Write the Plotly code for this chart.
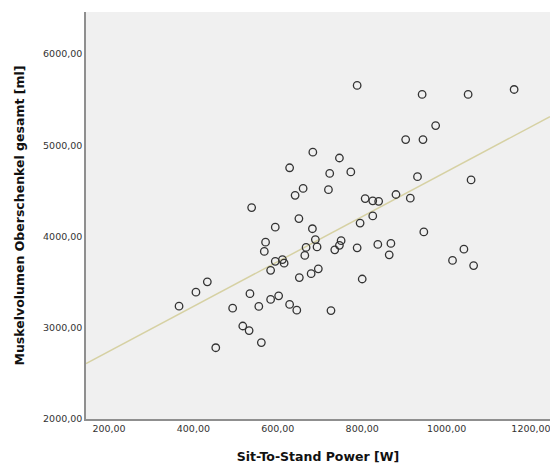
import plotly.graph_objects as go

# Sit-To-Stand Power [W]
power_w = [788, 942, 1051, 1160, 974, 903, 944, 683, 746, 628,
           723, 773, 660, 641, 720, 931, 1058, 807, 825, 839,
           880, 914, 650, 795, 825, 682, 689, 667, 693, 664,
           750, 746, 735, 788, 837, 868, 864, 946, 1041, 1014,
           1064, 538, 594, 571, 568, 594, 611, 615, 583, 433,
           406, 366, 534, 493, 555, 583, 602, 628, 645, 726,
           517, 532, 561, 453, 651, 679, 696, 800]
# Muskelvolumen Oberschenkel gesamt [ml]
volume_ml = [5655, 5557, 5557, 5611, 5215, 5062, 5062, 4924, 4860, 4753,
             4691, 4707, 4527, 4451, 4513, 4655, 4620, 4416, 4391, 4385,
             4460, 4420, 4196, 4147, 4225, 4085, 3966, 3880, 3886, 3793,
             3954, 3903, 3854, 3876, 3913, 3924, 3799, 4050, 3861, 3738,
             3681, 4317, 4102, 3938, 3836, 3728, 3747, 3708, 3629, 3503,
             3390, 3236, 3373, 3214, 3234, 3310, 3350, 3255, 3193, 3188,
             3019, 2969, 2838, 2781, 3550, 3592, 3646, 3534]

# linear fit line
fit_intercept = 2248
fit_slope = 2.462

x_range = [145.5, 1245]
y_range = [2000, 6460]

x_tickvals = [200, 400, 600, 800, 1000, 1200]
x_ticktext = ["200,00", "400,00", "600,00", "800,00", "1000,00", "1200,00"]
y_tickvals = [2000, 3000, 4000, 5000, 6000]
y_ticktext = ["2000,00", "3000,00", "4000,00", "5000,00", "6000,00"]

fig = go.Figure()

fig.add_trace(go.Scatter(
    x=x_range,
    y=[fit_intercept + fit_slope * v for v in x_range],
    mode="lines",
    line=dict(color="#d6d1a3", width=1.5),
    hoverinfo="skip",
    showlegend=False,
))

fig.add_trace(go.Scatter(
    x=power_w, y=volume_ml,
    mode="markers",
    marker=dict(symbol="circle-open", size=7.5, color="#333333",
                line=dict(width=1.3, color="#333333")),
    showlegend=False,
))

fig.update_layout(
    width=550, height=468,
    margin=dict(l=86, r=0, t=12, b=49),
    paper_bgcolor="white",
    plot_bgcolor="#f0f0f0",
    font=dict(family="DejaVu Sans", color="#222222"),
    xaxis=dict(
        range=x_range, tickvals=x_tickvals, ticktext=x_ticktext,
        showgrid=False, zeroline=False,
        showline=True, linecolor="#8f8f8f", linewidth=1.5,
        ticks="", ticklen=0,
        ticklabeloverflow="allow",
        tickfont=dict(size=9.5, color="#333333"),
        title=dict(text="<b>Sit-To-Stand Power [W]</b>",
                   font=dict(size=12.5, color="#111111"), standoff=19),
        automargin=False,
    ),
    yaxis=dict(
        range=y_range, tickvals=y_tickvals, ticktext=y_ticktext,
        showgrid=False, zeroline=False,
        showline=True, linecolor="#8f8f8f", linewidth=1.5,
        ticks="", ticklen=0,
        tickfont=dict(size=9.5, color="#333333"),
        title=dict(text="<b>Muskelvolumen Oberschenkel gesamt [ml]</b>",
                   font=dict(size=12.5, color="#111111"), standoff=16),
        automargin=False,
    ),
)

fig.write_html(
    "out.html",
    config={"displayModeBar": False},
    post_script="document.body.style.margin='0';document.body.style.overflow='hidden';",
)
